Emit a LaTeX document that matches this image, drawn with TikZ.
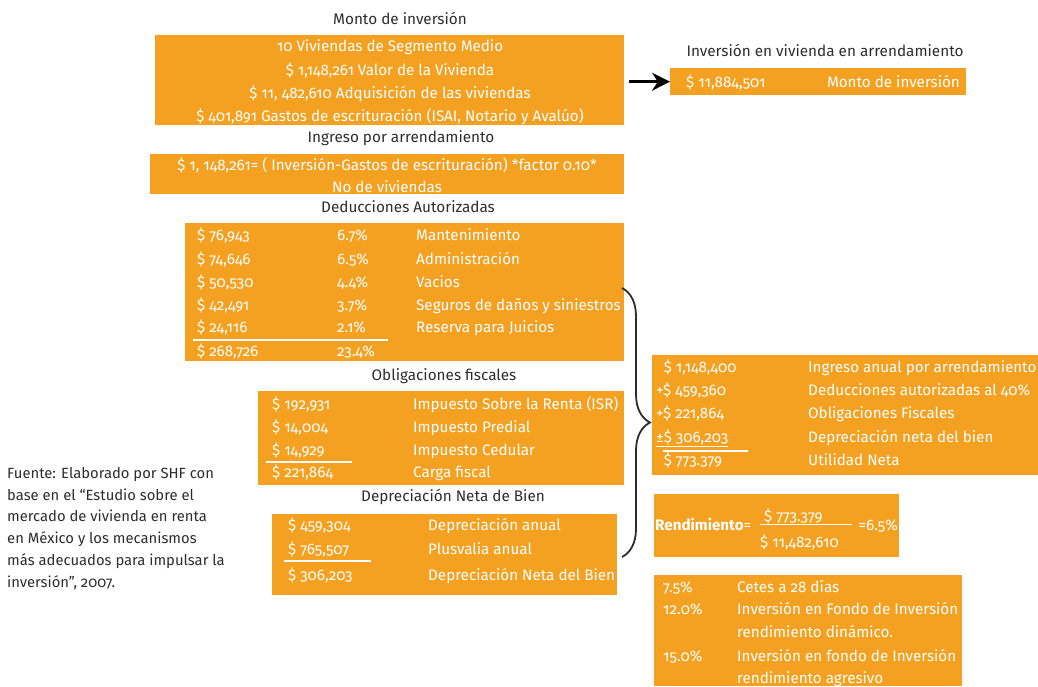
\documentclass[tikz,border=0pt]{standalone}
\usepackage{fontspec}
\setmainfont{Fira Sans}[Numbers=OldStyle]
\usetikzlibrary{arrows.meta,decorations.pathreplacing}
\definecolor{naranja}{RGB}{244,161,34}
\definecolor{gristexto}{RGB}{45,45,45}
\tikzset{
  caja/.style={fill=naranja, draw=none, anchor=north west, inner sep=0pt},
  titulo/.style={text=gristexto, inner sep=0pt, font=\fontsize{15.3}{18}\selectfont},
  dato/.style={text=white, anchor=base west, inner sep=0pt, font=\fontsize{15.2}{18}\selectfont},
  raya/.style={draw=white, line width=2.5pt},
}
\begin{document}
\begin{tikzpicture}[x=1pt, y=-1pt]
		\useasboundingbox (0,0) rectangle (1038,686);
		
		% cajas
		\node[caja, minimum width=469pt, minimum height=90pt] (monto) at (155,35) {};
		\node[caja, minimum width=296pt, minimum height=27pt] (arrend) at (670,68) {};
		\node[caja, minimum width=474pt, minimum height=40pt] (ingreso) at (150,154) {};
		\node[caja, minimum width=439pt, minimum height=138pt] (deduc) at (185,223) {};
		\node[caja, minimum width=366pt, minimum height=94pt] (oblig) at (258,391) {};
		\node[caja, minimum width=345pt, minimum height=81pt] (deprec) at (272,514) {};
		\node[caja, minimum width=386pt, minimum height=120pt] (utilidad) at (652,355) {};
		\node[caja, minimum width=245pt, minimum height=63pt] (rend) at (654,494) {};
		\node[caja, minimum width=308pt, minimum height=111pt] (cetes) at (654,575) {};
		
		% titulos
		\node[titulo] (tmonto) at (400,18) {Monto de inversión};
		\node[titulo] (tarrend) at (825,50) {Inversión en vivienda en arrendamiento};
		\node[titulo] (tingreso) at (401,138) {Ingreso por arrendamiento};
		\node[titulo] (tdeduc) at (408,207) {Deducciones Autorizadas};
		\node[titulo] (toblig) at (444,376) {Obligaciones fiscales};
		\node[titulo] (tdeprec) at (453,497) {Depreciación Neta de Bien};
		
		% monto de inversion
		\node[dato, anchor=base] (m1) at (390,51) {10 Viviendas de Segmento Medio};
		\node[dato, anchor=base] (m2) at (390,75) {\$ 1,148,261 Valor de la Vivienda};
		\node[dato, anchor=base] (m3) at (390,98) {\$ 11, 482,610 Adquisición de las viviendas};
		\node[dato, anchor=base] (m4) at (390,121) {\$ 401,891 Gastos de escrituración (ISAI, Notario y Avalúo)};
		
		\node[dato] (a1) at (686,87) {\$ 11,884,501};
		\node[dato, anchor=base east] (a2) at (960,87) {Monto de inversión};
		\draw[-{Stealth[length=18pt,width=18pt]}, line width=2.5pt, black, shorten <=5pt] (monto.east |- arrend.west) -- (arrend.west);
		
		% ingreso
		\node[dato, anchor=base] (i1) at (387,170) {\$ 1, 148,261= ( Inversión-Gastos de escrituración) *factor 0.10*};
		\node[dato, anchor=base] (i2) at (387,192) {No de viviendas};
		
		% deducciones
		\foreach \y/\a/\p/\l in {240/{\$ 76,943}/6.7\%/Mantenimiento, 264/{\$ 74,646}/6.5\%/Administración, 287/{\$ 50,530}/4.4\%/Vacios, 310/{\$ 42,491}/3.7\%/Seguros de daños y siniestros, 332/{\$ 24,116}/2.1\%/Reserva para Juicios}{
			\node[dato] at (197,\y) {\a};
			\node[dato] at (337,\y) {\p};
			\node[dato] at (416,\y) {\l};
		}
		\draw[raya] (193,340) -- (388,340);
		\node[dato] (dtotal) at (197,356) {\$ 268,726};
		\node[dato] (dpct) at (337,356) {23.4\%};
		
		% obligaciones
		\foreach \y/\a/\l in {409/{\$ 192,931}/Impuesto Sobre la Renta (ISR), 432/{\$ 14,004}/Impuesto Predial, 455/{\$ 14,929}/Impuesto Cedular, 477/{\$ 221,864}/Carga fiscal}{
			\node[dato] at (272,\y) {\a};
			\node[dato] at (413,\y) {\l};
		}
		\draw[raya] (266,462) -- (352,462);
		
		% depreciacion
		\foreach \y/\a/\l in {530/{\$ 459,304}/Depreciación anual, 554/{\$ 765,507}/Plusvalia anual, 580/{\$ 306,203}/Depreciación Neta del Bien}{
			\node[dato] at (288,\y) {\a};
			\node[dato] at (428,\y) {\l};
		}
		\draw[raya] (284,561) -- (371,561);
		
		% llave
		\coordinate (llaveA) at (622,288);
		\coordinate (llaveB) at (622,557);
		\draw[decorate, decoration={brace, amplitude=28pt}, line width=1.8pt, gristexto] (llaveA) -- (llaveB);
		
		% utilidad neta
		\foreach \y/\a/\l in {372/{\phantom{+}\$ 1,148,400}/Ingreso anual por arrendamiento, 395/{+\$ 459,360}/Deducciones autorizadas al 40\%, 418/{+\$ 221,864}/Obligaciones Fiscales, 442/{\underline{±\$ 306,203}}/Depreciación neta del bien, 465/{\phantom{+}\$ 773.379}/Utilidad Neta}{
			\node[dato] at (656,\y) {\a};
			\node[dato] at (808,\y) {\l};
		}
		\draw[raya] (663,451) -- (748,451);
		
		% rendimiento
		\node[dato] (r1) at (655,530) {\textbf{Rendimiento}=};
		\node[dato] (r2) at (764,521) {\$ 773.379};
		\node[dato] (r3) at (760,547) {\$ 11,482,610};
		\draw[white, line width=1pt] (760,524) -- (852,524);
		\node[dato, anchor=base east] (r4) at (898,530) {=6.5\%};
		
		% cetes
		\node[dato] at (663,592) {7.5\%};
		\node[dato] at (663,614) {12.0\%};
		\node[dato] at (663,661) {15.0\%};
		\node[dato] at (737,592) {Cetes a 28 días};
		\node[dato] at (737,614) {Inversión en Fondo de Inversión};
		\node[dato] at (737,637) {rendimiento dinámico.};
		\node[dato] at (737,661) {Inversión en fondo de Inversión};
		\node[dato] at (737,683) {rendimiento agresivo};
		
		% fuente
		\node[titulo, anchor=north west, align=left, font=\fontsize{14.8}{21.8}\selectfont] (fuente) at (7,467) {Fuente: Elaborado por SHF con\\ base en el “Estudio sobre el\\ mercado de vivienda en renta\\ en México y los mecanismos\\ más adecuados para impulsar la\\ inversión”, 2007.};
	\end{tikzpicture}
\end{document}
